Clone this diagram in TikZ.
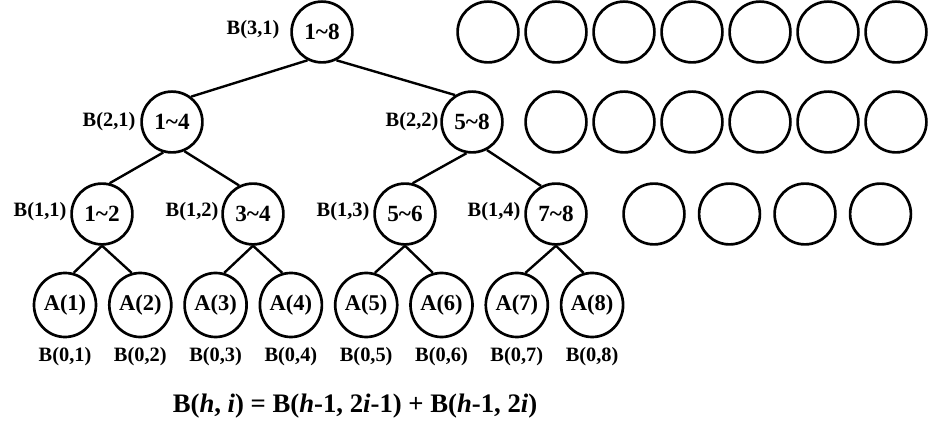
\documentclass[tikz,border=0pt]{standalone}
\usepackage{fontspec}
\setmainfont{Liberation Serif}
\usetikzlibrary{shapes.geometric}

\begin{document}
\begin{tikzpicture}[x=0.025cm,y=-0.025cm,line width=1.7pt,
  blk/.style={circle,draw,line width=1.9pt,inner sep=0pt,minimum size=1.52cm,
    font=\bfseries\fontsize{16.5}{16.5}\selectfont},
  leaf/.style={ellipse,draw,line width=1.9pt,inner sep=0pt,minimum width=1.55cm,
    minimum height=1.6cm,font=\bfseries\fontsize{16}{16}\selectfont},
  tag/.style={inner sep=0pt,anchor=base,font=\bfseries\fontsize{14.5}{14.5}\selectfont}]
\useasboundingbox (0,0) rectangle (928,438);
% tree
\node[blk] (b31) at (322,32) {1\textasciitilde8};
\node[blk] (b21) at (172,122) {1\textasciitilde4};
\node[blk] (b22) at (472,122) {5\textasciitilde8};
\node[blk] (b11) at (102,214) {1\textasciitilde2};
\node[blk] (b12) at (253,214) {3\textasciitilde4};
\node[blk] (b13) at (405,214) {5\textasciitilde6};
\node[blk] (b14) at (556,214) {7\textasciitilde8};
\foreach \i in {1,...,8}{
  \pgfmathsetmacro\xa{65+75.3*(\i-1)}
  \node[leaf] (a\i) at (\xa,305) {A(\i)};
  \node[tag] (b0\i) at (\xa,362) {B(0,\i)};
}
\draw (b31.-117) -- (b21.53);
\draw (b31.-63) -- (b22.122);
\draw (b21.-106) -- (b11.76);
\draw (b21.-67) -- (b12.116);
\draw (b22.-100) -- (b13.76);
\draw (b22.-62) -- (b14.118);
\foreach \p/\l/\r in {b11/a1/a2,b12/a3/a4,b13/a5/a6,b14/a7/a8}{
  \draw (\p.south) -- (\l.75);
  \draw (\p.south) -- (\r.105);
}
% names of the blocks
\node[tag] (t31) at (253,35) {B(3,1)};
\node[tag] (t21) at (109,127) {B(2,1)};
\node[tag] (t22) at (412,127) {B(2,2)};
\node[tag] (t11) at (40,217) {B(1,1)};
\node[tag] (t12) at (192,217) {B(1,2)};
\node[tag] (t13) at (343,217) {B(1,3)};
\node[tag] (t14) at (494,217) {B(1,4)};
% empty blocks
\foreach \k in {0,...,6} \node[blk] (r1\k) at (488+68*\k,32) {};
\foreach \k in {1,...,6} \node[blk] (r2\k) at (488+68*\k,122) {};
\foreach \k in {0,...,3} \node[blk] (r3\k) at (654+75.5*\k,214) {};
% rule
\node[anchor=base,inner sep=0pt,font=\bfseries\fontsize{19}{19}\selectfont] (rule) at (355,413)
  {B(\textit{h}, \textit{i}) = B(\textit{h}-1, 2\textit{i}-1) + B(\textit{h}-1, 2\textit{i})};
\end{tikzpicture}
\end{document}
